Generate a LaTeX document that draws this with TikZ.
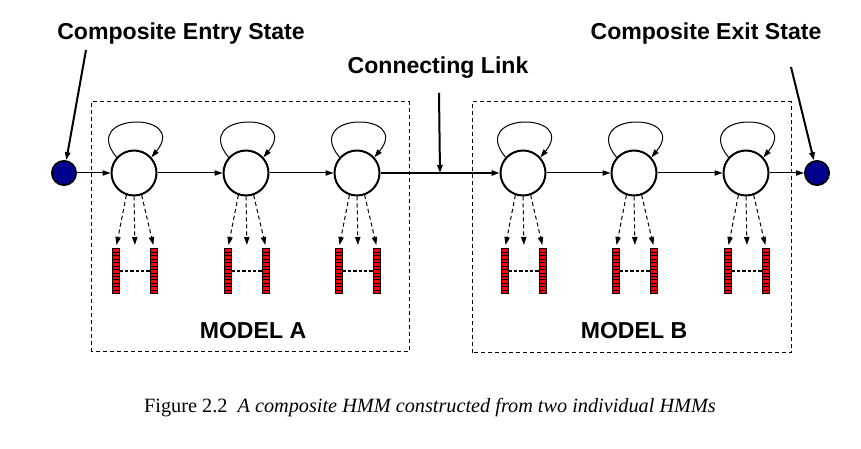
\documentclass[tikz,border=0pt]{standalone}
\usepackage{fontspec}
\setmainfont{Liberation Serif}
\setsansfont{Liberation Sans}
\usetikzlibrary{calc,arrows.meta}

\definecolor{endblue}{RGB}{0,0,140}

\begin{document}
\begin{tikzpicture}[x=0.75pt,y=0.75pt,
		>={Triangle[length=6pt,width=4pt]},
		state/.style={circle,draw,line width=1.5pt,minimum size=33.75pt,inner sep=0pt,fill=white},
		endstate/.style={circle,draw,line width=1.2pt,minimum size=18.3pt,inner sep=0pt,fill=endblue},
		bar/.style={rectangle,draw,fill=red,line width=0.6pt,minimum width=5pt,minimum height=34pt,inner sep=0pt,
			path picture={\foreach \k in {1,...,12}
				\draw[line width=0.35pt] ($(path picture bounding box.south west)!\k/13!(path picture bounding box.north west)$)
				-- ($(path picture bounding box.south east)!\k/13!(path picture bounding box.north east)$);}},
		title/.style={font=\sffamily\bfseries\fontsize{17.3}{20}\selectfont},
		boxline/.style={line width=0.75pt,dash pattern=on 3pt off 2.25pt},
		emit/.style={->,line width=0.75pt,dash pattern=on 3pt off 2.25pt,shorten >=2.25pt}]
		\useasboundingbox (0,0) rectangle (861,449);

		% Model boxes
		\draw[boxline] (91,97) rectangle (409,347);
		\draw[boxline] (472,96) rectangle (791,347);

		% States, self loops and outputs
		\foreach \n/\x in {a1/134,a2/246,a3/357,b1/523,b2/634,b3/746} {
			\node[state] (\n) at (\x,276) {};
			\draw[->,line width=0.75pt] (\n.138) .. controls +(-38,46) and +(38,46) .. (\n.42);
			\node[bar] (\n-l) at (\x-18,178) {};
			\node[bar] (\n-r) at (\x+20,178) {};
			\coordinate (\n-m) at (\x+1,201);
			\draw[emit] (\n.251) -- (\n-l.north);
			\draw[emit] (\n.270) -- (\n-m);
			\draw[emit] (\n.289) -- (\n-r.north);
			\draw[line width=1.3pt,dash pattern=on 2.5pt off 1.5pt] (\n-l.east) -- (\n-r.west);
		}

		% Entry and exit states
		\node[endstate] (entry) at (64,276) {};
		\node[endstate] (exit) at (817,276) {};

		% Transitions
		\draw[->,line width=0.75pt] (entry) -- (a1);
		\draw[->,line width=0.75pt] (a1) -- (a2);
		\draw[->,line width=0.75pt] (a2) -- (a3);
		\draw[->,line width=1.5pt] (a3) -- (b1);
		\draw[->,line width=0.75pt] (b1) -- (b2);
		\draw[->,line width=0.75pt] (b2) -- (b3);
		\draw[->,line width=0.75pt] (b3) -- (exit);

		% Labels
		\node[title] (entrylabel) at (181,415) {Composite Entry State};
		\node[title] (exitlabel) at (706,415) {Composite Exit State};
		\node[title] (linklabel) at (438,381) {Connecting Link};
		\node[title] (modela) at (253,118) {MODEL A};
		\node[title] (modelb) at (634,118) {MODEL B};

		% Pointers
		\coordinate (entrytail) at (86,399);
		\coordinate (exittail) at (791,382);
		\coordinate (linktail) at (439,356);
		\coordinate (linkhead) at ($(a3)!0.5!(b1)$);
		\draw[->,line width=1.5pt] (entrytail) -- (entry);
		\draw[->,line width=1.5pt] (exittail) -- (exit);
		\draw[->,line width=1.5pt] (linktail) -- (linkhead);

		% Caption
		\node[font=\fontsize{15.2}{18}\selectfont] (caption) at (430,41)
			{Figure 2.2\enspace\textit{A composite HMM constructed from two individual HMMs}};
	\end{tikzpicture}
\end{document}
